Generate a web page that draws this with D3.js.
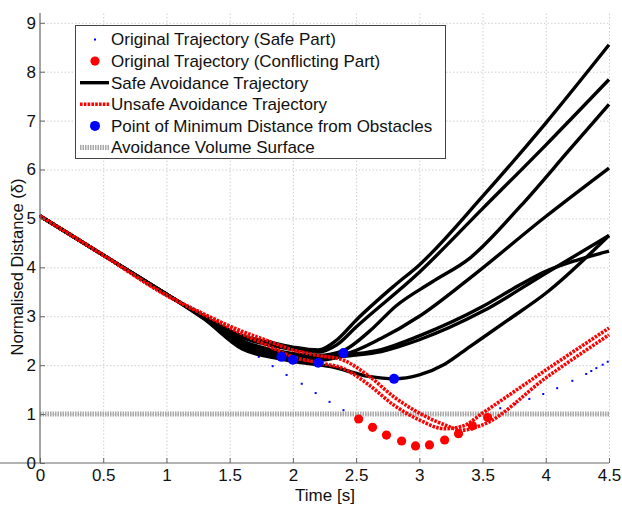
<!DOCTYPE html>
<html lang="en">
<head>
<meta charset="UTF-8">
<title>Normalised Distance</title>
<script src="https://unpkg.com/d3@7.8.5/dist/d3.min.js"></script>
<style>
  * { margin: 0; padding: 0; box-sizing: border-box; }
  body { background: #fff; }
  svg { display: block; font-family: "Liberation Sans", Arial, sans-serif; }
</style>
</head>
<body>
<svg class="cc" width="622" height="506"></svg>
<script>
// tick values
const timeTicks = [0, 0.5, 1, 1.5, 2, 2.5, 3, 3.5, 4, 4.5]
const distTicks = [0, 1, 2, 3, 4, 5, 6, 7, 8, 9]

// original trajectory, safe part (blue dots) - early part sits under the lines
const origSafeT = [0, 0.04, 0.15, 0.26, 0.37, 0.49, 0.6, 0.71, 0.83, 0.94, 1.05, 1.17, 1.28, 1.39, 1.5, 1.62,
    1.73, 1.84, 1.95, 2.07, 2.18, 2.29, 2.4,
    3.64, 3.76, 3.87, 3.98, 4.09, 4.21, 4.32, 4.36, 4.4, 4.45, 4.49]
const origSafeV = [5.05, 4.99, 4.81, 4.63, 4.45, 4.27, 4.09, 3.91, 3.73, 3.55, 3.38, 3.2, 3.03, 2.86, 2.66, 2.42,
    2.17, 1.98, 1.8, 1.62, 1.43, 1.25, 1.08,
    1.12, 1.21, 1.31, 1.41, 1.53, 1.68, 1.82, 1.88, 1.94, 2.01, 2.07]

// original trajectory, conflicting part (red dots)
const origConfT = [2.52, 2.63, 2.74, 2.86, 2.97, 3.08, 3.2, 3.31, 3.42, 3.54]
const origConfV = [0.9, 0.73, 0.57, 0.45, 0.35, 0.37, 0.47, 0.6, 0.76, 0.93]

// safe avoidance trajectories [time, distance]
const safeA = [[0, 5.05], [0.5, 4.25], [1, 3.45], [1.3, 3.0], [1.6, 2.6], [1.8, 2.48], [2, 2.37], [2.2, 2.31], [2.35, 2.52], [2.5, 2.92], [2.8, 3.62], [3, 4.05], [3.5, 5.45], [4, 6.95], [4.5, 8.55]]
const safeB = [[0, 5.05], [0.5, 4.25], [1, 3.45], [1.3, 2.99], [1.6, 2.56], [1.8, 2.42], [2, 2.32], [2.2, 2.27], [2.35, 2.42], [2.5, 2.78], [3, 3.9], [3.5, 5.2], [4, 6.5], [4.5, 7.84]]
const safeC = [[0, 5.05], [0.5, 4.25], [1, 3.45], [1.3, 2.98], [1.6, 2.5], [1.9, 2.28], [2.2, 2.2], [2.4, 2.3], [2.6, 2.68], [2.82, 3.22], [3.1, 3.7], [3.4, 4.19], [3.8, 5.25], [4.19, 6.41], [4.5, 7.33]]
const safeD = [[0, 5.05], [0.5, 4.25], [1, 3.45], [1.3, 2.97], [1.6, 2.45], [1.9, 2.24], [2.2, 2.17], [2.4, 2.22], [2.7, 2.55], [3, 3], [3.4, 3.78], [4, 5.04], [4.5, 6.03]]
const safeE = [[0, 5.05], [0.5, 4.25], [1, 3.45], [1.3, 2.96], [1.6, 2.4], [1.9, 2.2], [2.2, 2.12], [2.4, 2.2], [2.7, 2.32], [3, 2.6], [3.5, 3.2], [3.8, 3.65], [4, 3.92], [4.25, 4.15], [4.5, 4.33]]
const safeF = [[0, 5.05], [0.5, 4.25], [1, 3.45], [1.3, 2.95], [1.6, 2.36], [1.9, 2.18], [2.2, 2.1], [2.4, 2.18], [2.7, 2.28], [3, 2.52], [3.5, 3.1], [4, 3.88], [4.5, 4.65]]
const safeG = [[0, 5.05], [0.5, 4.25], [1, 3.45], [1.3, 2.94], [1.6, 2.33], [1.9, 2.13], [2, 2.08], [2.3, 1.97], [2.6, 1.77], [2.8, 1.72], [3, 1.8], [3.2, 2.02], [3.4, 2.38], [3.7, 2.92], [4, 3.47], [4.5, 4.65]]
const safeTrajs = [safeA, safeB, safeC, safeD, safeE, safeF, safeG]

// unsafe avoidance trajectories
const unsafeA = [[0, 5.05], [0.5, 4.25], [1, 3.43], [1.3, 3.03], [1.6, 2.64], [1.8, 2.4], [2, 2.17], [2.2, 2.05], [2.4, 1.93], [2.6, 1.6], [2.8, 1.18], [3, 0.88], [3.2, 0.7], [3.35, 0.76], [3.5, 1.02], [4, 1.9], [4.5, 2.76]]
const unsafeB = [[0, 5.05], [0.5, 4.25], [1, 3.43], [1.3, 3.04], [1.6, 2.69], [1.8, 2.5], [2, 2.31], [2.2, 2.2], [2.4, 2.1], [2.6, 1.78], [2.8, 1.35], [3, 1.02], [3.2, 0.78], [3.33, 0.67], [3.5, 0.78], [4, 1.74], [4.5, 2.62]]
const unsafeTrajs = [unsafeA, unsafeB]

// points of minimum distance from obstacles
const minT = [1.91, 2.0, 2.2, 2.4, 2.8]
const minV = [2.17, 2.11, 2.05, 2.25, 1.72]

// avoidance volume surface
const surfaceV = 1

const legendItems = [
    'Original Trajectory (Safe Part)',
    'Original Trajectory (Conflicting Part)',
    'Safe Avoidance Trajectory',
    'Unsafe Avoidance Trajectory',
    'Point of Minimum Distance from Obstacles',
    'Avoidance Volume Surface'
]

const svg = d3.select('svg')
const x = d3.scaleLinear().domain([0, 4.5]).range([40, 609])
const y = d3.scaleLinear().domain([0, 9.2]).range([463, 13])

// grid
const grid = svg.append('g').attr('stroke', '#cfcfcf').attr('stroke-dasharray', '1.5,2').attr('stroke-width', 1)
grid.selectAll('.gx').data(timeTicks.filter(d => d > 0)).enter().append('line')
    .attr('x1', d => x(d) + 0.5).attr('x2', d => x(d) + 0.5).attr('y1', y(0)).attr('y2', y(9.2))
grid.selectAll('.gy').data(distTicks.filter(d => d > 0)).enter().append('line')
    .attr('x1', x(0)).attr('x2', x(4.5)).attr('y1', d => y(d) + 0.5).attr('y2', d => y(d) + 0.5)

// avoidance volume surface
svg.append('line')
    .attr('x1', x(0)).attr('x2', x(4.5)).attr('y1', y(surfaceV)).attr('y2', y(surfaceV))
    .attr('stroke', '#a8a8a8').attr('stroke-width', 5).attr('stroke-dasharray', '1.5,1')

// original trajectory
svg.append('g').selectAll('rect').data(origSafeT).enter().append('rect')
    .attr('x', (d) => x(d) - 1).attr('y', (d, i) => y(origSafeV[i]) - 1)
    .attr('width', 2).attr('height', 2).attr('fill', '#00f')
svg.append('g').selectAll('circle').data(origConfT).enter().append('circle')
    .attr('cx', d => x(d)).attr('cy', (d, i) => y(origConfV[i]))
    .attr('r', 4.6).attr('fill', '#f00')

const line = d3.line().x(d => x(d[0])).y(d => y(d[1])).curve(d3.curveMonotoneX)

// safe trajectories
svg.append('g').selectAll('path').data(safeTrajs).enter().append('path')
    .attr('d', line).attr('fill', 'none').attr('stroke', '#000').attr('stroke-width', 3.4)
    .attr('stroke-linejoin', 'round')

// unsafe trajectories
svg.append('g').selectAll('path').data(unsafeTrajs).enter().append('path')
    .attr('d', line).attr('fill', 'none').attr('stroke', '#f00').attr('stroke-width', 3.6)
    .attr('stroke-dasharray', '2.6,1.2')

// minimum distance points
svg.append('g').selectAll('circle').data(minT).enter().append('circle')
    .attr('cx', d => x(d)).attr('cy', (d, i) => y(minV[i]))
    .attr('r', 5).attr('fill', '#00f')

// axes
const xAxis = d3.axisBottom(x).tickValues(timeTicks).tickSize(-5).tickPadding(6).tickFormat(d3.format(''))
const yAxis = d3.axisLeft(y).tickValues(distTicks).tickSize(-5).tickPadding(4).tickFormat(d3.format(''))
const gx = svg.append('g').attr('transform', `translate(0,${y(0)})`).call(xAxis)
const gy = svg.append('g').attr('transform', `translate(${x(0)},0)`).call(yAxis)
;[gx, gy].forEach(g => {
    g.select('.domain').attr('stroke', '#666').attr('stroke-width', 1.2)
    g.selectAll('.tick line').attr('stroke', '#666')
    g.selectAll('.tick text').attr('font-size', 17).attr('fill', '#111')
        .attr('font-family', '"Liberation Sans", Arial, sans-serif')
})
gy.select('.domain').attr('d', `M0,${y(0)}V${y(9.2)}`)
gx.select('.domain').attr('d', `M0,0H${x(4.5)}`)

svg.append('text').attr('x', 325).attr('y', 501).attr('text-anchor', 'middle')
    .attr('font-size', 17).attr('fill', '#111').text('Time [s]')
svg.append('text').attr('transform', 'translate(23,267) rotate(-90)').attr('text-anchor', 'middle')
    .attr('font-size', 16.5).attr('fill', '#111').text('Normalised Distance (δ)')

// legend
const lg = svg.append('g')
lg.append('rect').attr('x', 75.5).attr('y', 25.5).attr('width', 370).attr('height', 133)
    .attr('fill', '#fff').attr('stroke', '#444').attr('stroke-width', 1)
const rowY = i => 39.5 + i * 21.6
legendItems.forEach((t, i) => {
    lg.append('text').attr('x', 111).attr('y', rowY(i)).attr('dy', '0.35em')
        .attr('font-size', 17).attr('fill', '#111').text(t)
})
lg.append('rect').attr('x', 94).attr('y', rowY(0) - 1).attr('width', 2).attr('height', 2).attr('fill', '#00f')
lg.append('circle').attr('cx', 95).attr('cy', rowY(1)).attr('r', 4.6).attr('fill', '#f00')
lg.append('line').attr('x1', 80).attr('x2', 109).attr('y1', rowY(2)).attr('y2', rowY(2))
    .attr('stroke', '#000').attr('stroke-width', 3.4)
lg.append('line').attr('x1', 80).attr('x2', 109).attr('y1', rowY(3)).attr('y2', rowY(3))
    .attr('stroke', '#f00').attr('stroke-width', 3.6).attr('stroke-dasharray', '2.6,1.2')
lg.append('circle').attr('cx', 95).attr('cy', rowY(4)).attr('r', 5).attr('fill', '#00f')
lg.append('line').attr('x1', 80).attr('x2', 109).attr('y1', rowY(5)).attr('y2', rowY(5))
    .attr('stroke', '#a8a8a8').attr('stroke-width', 5).attr('stroke-dasharray', '1.5,1')
</script>
</body>
</html>
